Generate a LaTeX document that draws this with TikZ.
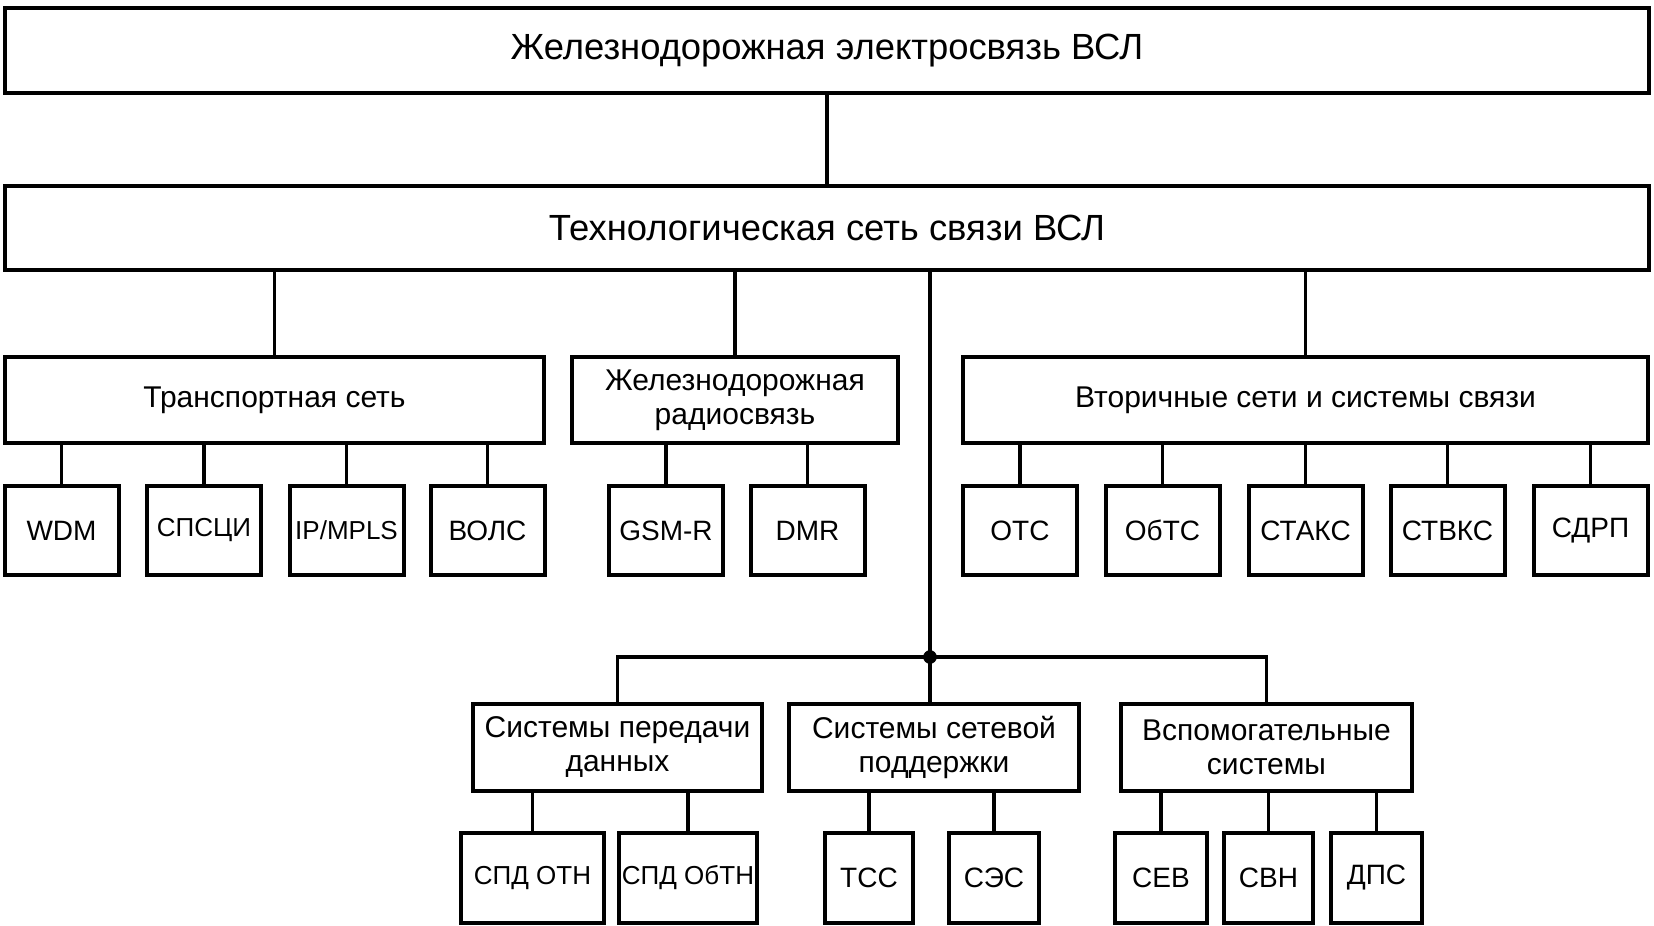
\documentclass[tikz,border=0pt]{standalone}
\usepackage{fontspec}
\setmainfont{Liberation Sans}

\tikzset{
  blk/.style={draw, line width=2pt, inner sep=0pt, align=center, minimum height=43pt},
  head/.style={blk, minimum width=822pt, font=\fontsize{18.2}{21}\selectfont},
  grp/.style={blk, font=\fontsize{15}{17}\selectfont},
  leaf/.style={blk, minimum width=57pt, minimum height=44.5pt, font=\fontsize{14}{16}\selectfont},
  link/.style={line width=1.9pt},
}

\begin{document}
\begin{tikzpicture}[x=0.5pt,y=-0.5pt]
  \useasboundingbox (0,0) rectangle (1654,926);

  % upper levels
  \node[head, minimum height=42.5pt] (top) at (827,50.5) {Железнодорожная электросвязь ВСЛ};
  \node[head, minimum height=42pt] (tech) at (827,228) {Технологическая сеть связи ВСЛ};
  \draw[link] (top) -- (tech);

  \node[grp, minimum width=269.5pt] (transp) at (274.5,400) {Транспортная сеть};
  \node[grp, minimum width=163pt] (radio) at (735,400) {Железнодорожная\\радиосвязь};
  \node[grp, minimum width=342.5pt] (second) at (1305.5,400) {Вторичные сети и системы связи};
  \foreach \n in {transp,radio,second}
    \draw[link] (\n.north) -- (\n.north |- tech.south);

  % first row of leaves
  \foreach \x/\t [count=\i] in {61.5/WDM, 204/{\fontsize{13}{15}\selectfont СПСЦИ}, 346.5/{\fontsize{13}{15}\selectfont IP/MPLS}, 487.5/ВОЛС} {
    \node[leaf] (t\i) at (\x,530.5) {\t};
    \draw[link] (t\i.north) -- (t\i.north |- transp.south);
  }
  \foreach \x/\t [count=\i] in {666/GSM-R, 807.5/DMR} {
    \node[leaf] (r\i) at (\x,530.5) {\t};
    \draw[link] (r\i.north) -- (r\i.north |- radio.south);
  }
  \foreach \x/\t [count=\i] in {1020/ОТС, 1162.5/ОбТС, 1305.5/СТАКС, 1447.5/СТВКС, 1590.5/СДРП} {
    \node[leaf] (s\i) at (\x,530.5) {\t};
    \draw[link] (s\i.north) -- (s\i.north |- second.south);
  }

  % lower branch
  \coordinate (bus) at (930,657);
  \node[grp, minimum width=144.5pt, minimum height=43.5pt] (data) at (617.5,747.5) {Системы передачи\\данных};
  \node[grp, minimum width=145pt, minimum height=43.5pt] (support) at (934,747.5) {Системы сетевой\\поддержки};
  \node[grp, minimum width=145.5pt, minimum height=43.5pt] (aux) at (1266.5,747.5) {Вспомогательные\\системы};
  \draw[link] (tech.south -| bus) -- (bus) -- (bus |- support.north);
  \draw[link] (data.north) |- (bus) -| (aux.north);
  \fill (bus) circle (3.4pt);

  % second row of leaves
  \foreach \x/\w/\t [count=\i] in {532.5/71.5/{\fontsize{13}{15}\selectfont СПД ОТН}, 688/69/{\fontsize{13}{15}\selectfont СПД ОбТН}} {
    \node[leaf, minimum width=\w pt, minimum height=45pt] (d\i) at (\x,878) {\t};
    \draw[link] (d\i.north) -- (d\i.north |- data.south);
  }
  \foreach \x/\w/\t [count=\i] in {869/44/ТСС, 994/45/СЭС} {
    \node[leaf, minimum width=\w pt, minimum height=45pt] (n\i) at (\x,878) {\t};
    \draw[link] (n\i.north) -- (n\i.north |- support.south);
  }
  \foreach \x/\w/\t [count=\i] in {1161/46/СЕВ, 1268.5/44.5/СВН, 1376.5/45.5/ДПС} {
    \node[leaf, minimum width=\w pt, minimum height=45pt] (a\i) at (\x,878) {\t};
    \draw[link] (a\i.north) -- (a\i.north |- aux.south);
  }
\end{tikzpicture}
\end{document}
